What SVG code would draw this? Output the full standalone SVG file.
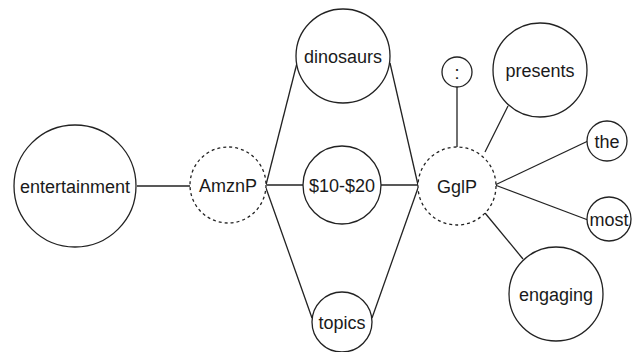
<svg xmlns="http://www.w3.org/2000/svg" width="637" height="352" viewBox="0 0 637 352">
  <style>
    .node { fill: #ffffff; stroke: #222222; stroke-width: 1.3; }
    .dashed { stroke-dasharray: 3 3; }
    .label { font-family: "Liberation Sans", Arial, sans-serif; font-size: 18px; fill: #1a1a1a; text-anchor: middle; }
    .edge { stroke: #222222; stroke-width: 1.3; fill: none; }
  </style>
  <rect width="637" height="352" fill="#ffffff"/>

  <!-- connectors -->
  <g id="connectors">
    <line class="edge" x1="137" y1="186" x2="190" y2="186"/>
    <line class="edge" x1="266" y1="185" x2="297" y2="63"/>
    <line class="edge" x1="267" y1="185" x2="303" y2="185"/>
    <line class="edge" x1="266" y1="188" x2="312" y2="318"/>
    <line class="edge" x1="390" y1="63" x2="418" y2="185"/>
    <line class="edge" x1="381" y1="185" x2="418" y2="185"/>
    <line class="edge" x1="372" y1="318" x2="418" y2="188"/>
    <line class="edge" x1="457" y1="87" x2="457" y2="147"/>
    <line class="edge" x1="485" y1="152" x2="508" y2="106"/>
    <line class="edge" x1="495" y1="185" x2="588" y2="141"/>
    <line class="edge" x1="495" y1="185" x2="588" y2="220"/>
    <line class="edge" x1="485" y1="213" x2="523" y2="259"/>
  </g>

  <g id="node-entertainment">
    <circle class="node" cx="75" cy="186" r="61"/>
    <text class="label" x="75" y="192.5">entertainment</text>
  </g>
  <g id="node-amznp">
    <circle class="node dashed" cx="228" cy="185" r="38"/>
    <text class="label" x="228" y="191.5">AmznP</text>
  </g>
  <g id="node-dinosaurs">
    <circle class="node" cx="343" cy="56" r="47"/>
    <text class="label" x="343" y="62.5">dinosaurs</text>
  </g>
  <g id="node-price">
    <circle class="node" cx="342" cy="185" r="39"/>
    <text class="label" x="342" y="191.5">$10-$20</text>
  </g>
  <g id="node-topics">
    <circle class="node" cx="342" cy="322" r="30"/>
    <text class="label" x="342" y="328.5">topics</text>
  </g>
  <g id="node-gglp">
    <circle class="node dashed" cx="457" cy="186" r="39"/>
    <text class="label" x="457" y="192.5">GglP</text>
  </g>
  <g id="node-colon">
    <circle class="node" cx="457" cy="72" r="15"/>
    <text class="label" x="457" y="78.5">:</text>
  </g>
  <g id="node-presents">
    <circle class="node" cx="540" cy="70" r="47"/>
    <text class="label" x="540" y="76.5">presents</text>
  </g>
  <g id="node-the">
    <circle class="node" cx="607" cy="141" r="20"/>
    <text class="label" x="607" y="147.5">the</text>
  </g>
  <g id="node-most">
    <circle class="node" cx="609" cy="219" r="22"/>
    <text class="label" x="609" y="225.5">most</text>
  </g>
  <g id="node-engaging">
    <circle class="node" cx="556" cy="294" r="47"/>
    <text class="label" x="556" y="300.5">engaging</text>
  </g>
</svg>
